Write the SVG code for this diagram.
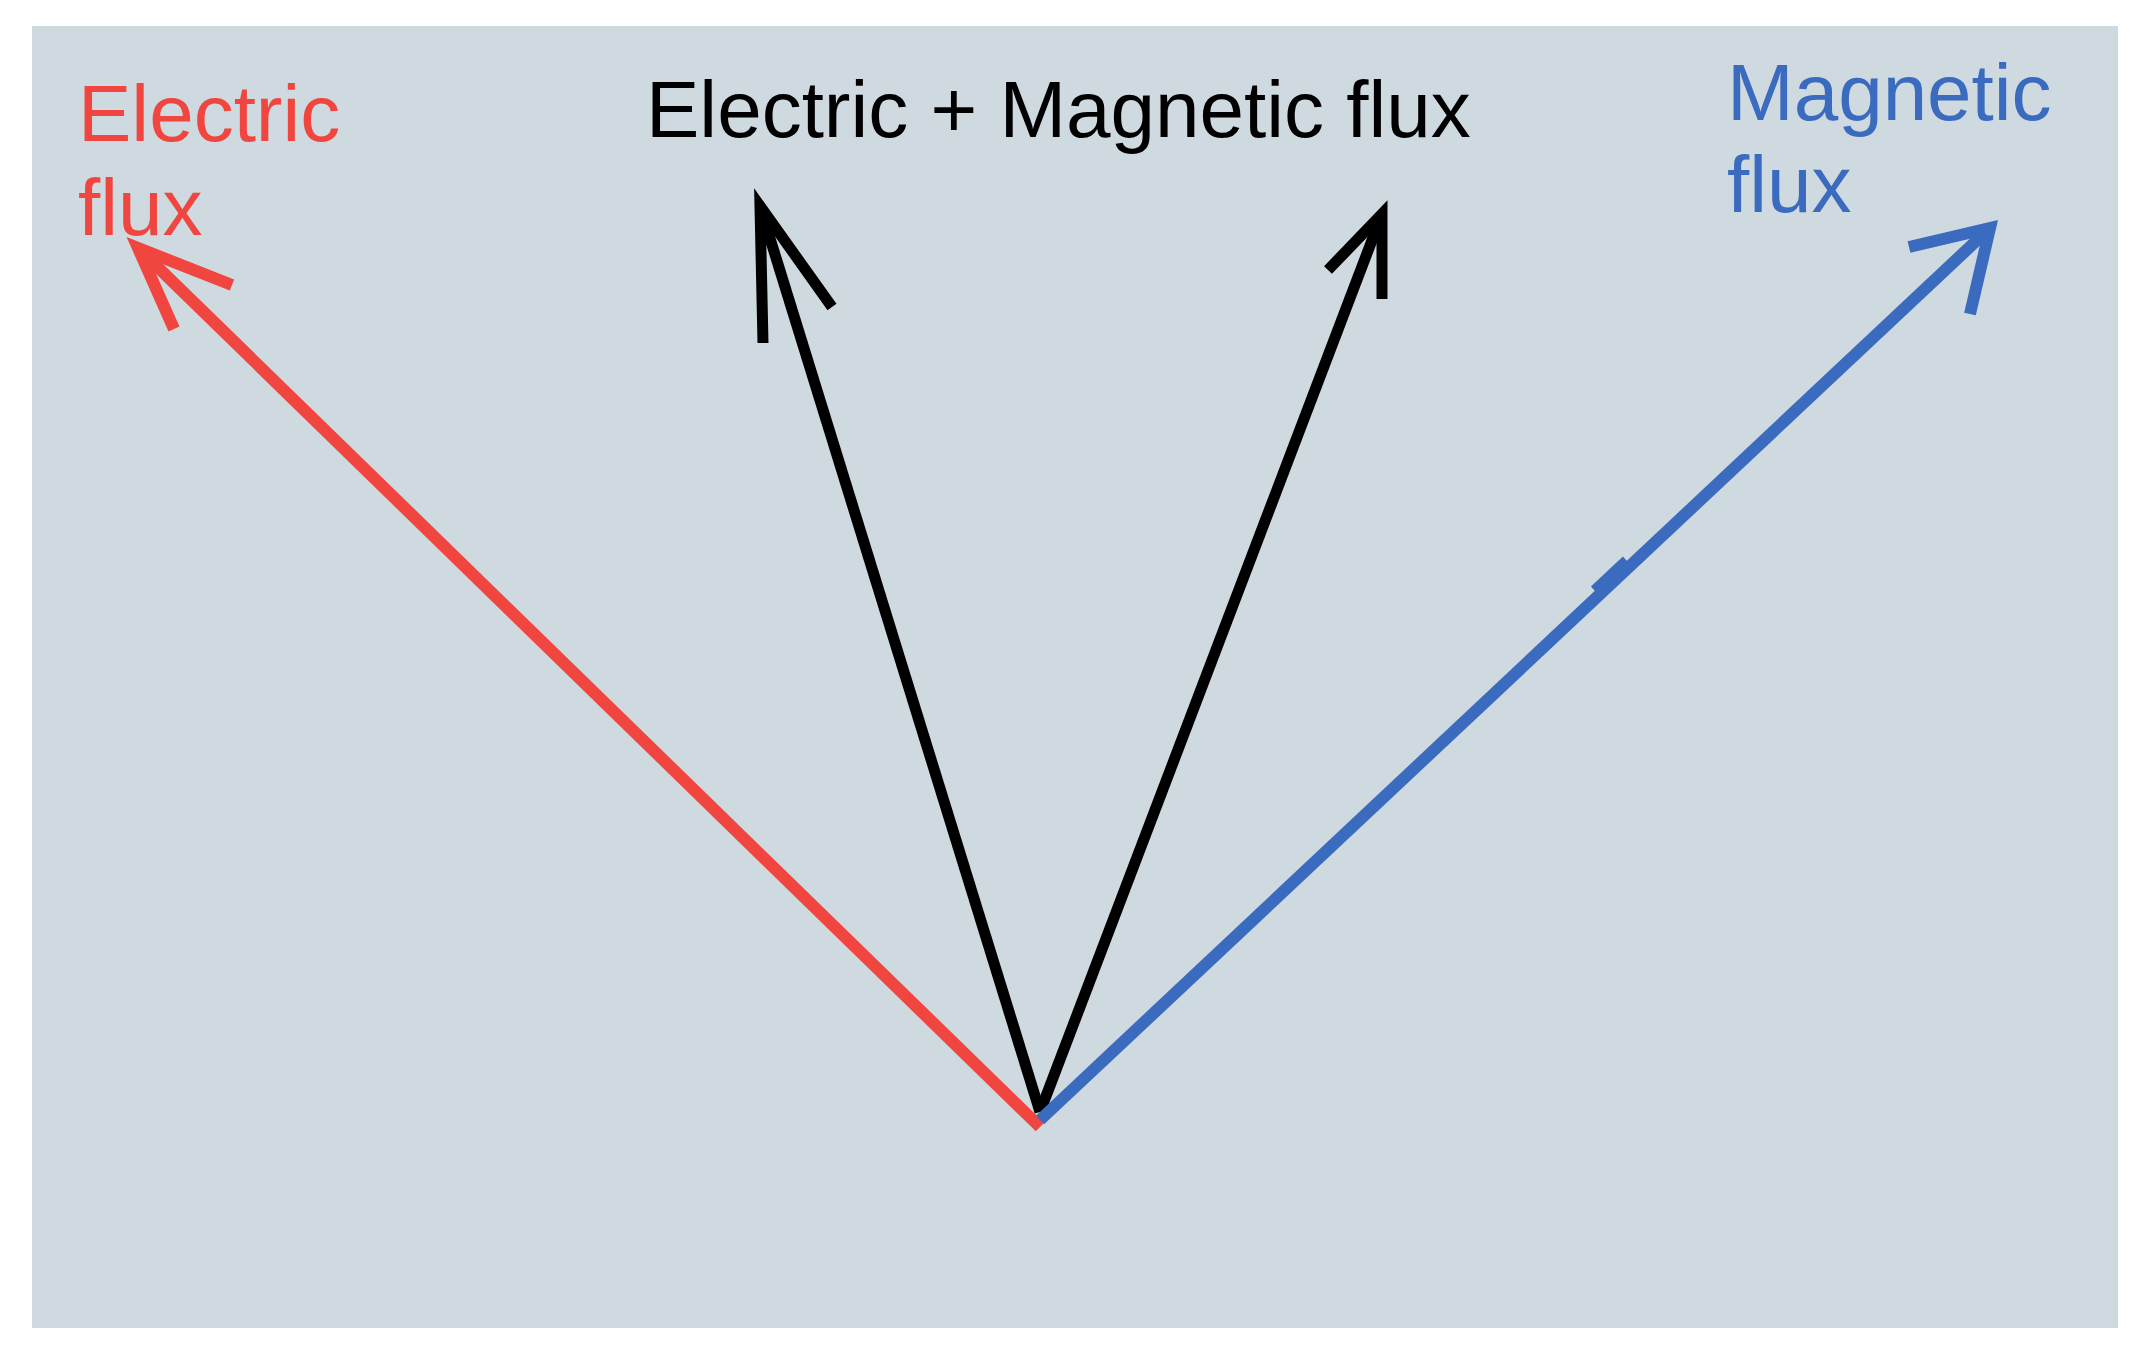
<svg xmlns="http://www.w3.org/2000/svg" width="2141" height="1355" viewBox="0 0 2141 1355">
<style>
.lbl{font-family:"Liberation Sans",Arial,sans-serif;font-size:80px}
.ln{fill:none;stroke-width:12;stroke-linecap:butt;stroke-linejoin:miter}
.red{stroke:#f0463f}
.blk{stroke:#000;stroke-width:11}
.blu{stroke:#3a6bbf}
</style>
<rect width="2141" height="1355" fill="#ffffff"/>
<rect id="bg" x="32" y="26" width="2086" height="1302" fill="#cfd9e0"/>
<g id="connectors">
  <g id="electric-arrow">
    <line class="ln red" x1="1040" y1="1127" x2="138" y2="248"/>
    <polyline class="ln red" points="232,285 138,248 174,329"/>
  </g>
  <g id="em-left-arrow">
    <line class="ln blk" x1="1040" y1="1112" x2="760" y2="206"/>
    <polyline class="ln blk" points="763,343 760,206 832,307"/>
  </g>
  <g id="em-right-arrow">
    <line class="ln blk" x1="1040" y1="1112" x2="1382" y2="214"/>
    <polyline class="ln blk" points="1328,270 1382,214 1382,299"/>
  </g>
  <g id="magnetic-arrow">
    <line class="ln blu" x1="1040" y1="1120" x2="1990" y2="228"/>
    <line class="ln blu" x1="1595" y1="591" x2="1627" y2="561"/>
    <polyline class="ln blu" points="1909,247 1990,228 1970,314"/>
  </g>
</g>
<g id="label-electric">
  <text class="lbl" x="78" y="141" fill="#f0463f">Electric</text>
  <text class="lbl" x="78" y="235" fill="#f0463f">flux</text>
</g>
<g id="label-em">
  <text class="lbl" x="646" y="137" fill="#000">Electric + Magnetic flux</text>
</g>
<g id="label-magnetic">
  <text class="lbl" x="1727" y="120" fill="#3a6bbf">Magnetic</text>
  <text class="lbl" x="1727" y="212" fill="#3a6bbf">flux</text>
</g>
</svg>
